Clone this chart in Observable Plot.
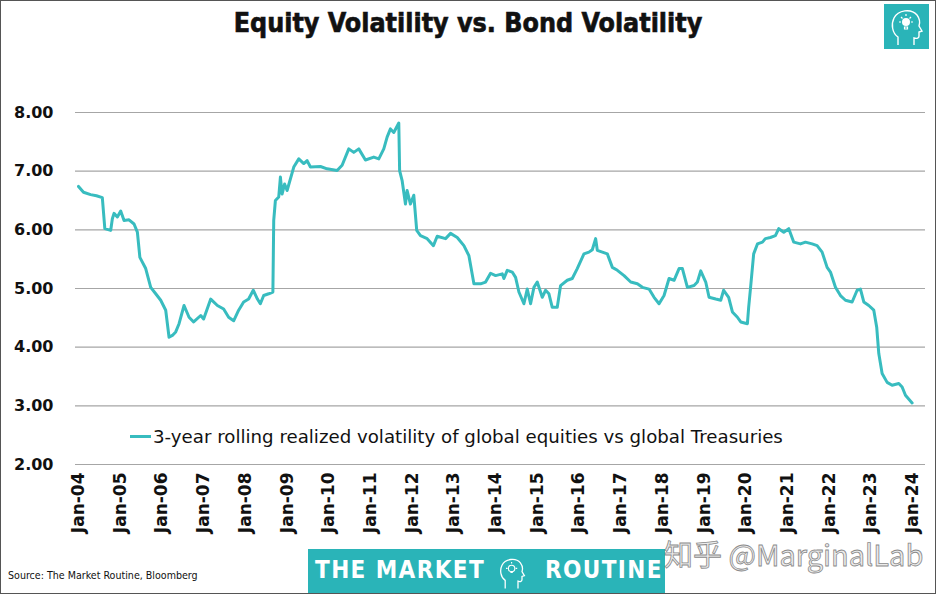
<!DOCTYPE html>
<html><head><meta charset="utf-8">
<script src="https://cdn.jsdelivr.net/npm/d3@7"></script>
<script src="https://cdn.jsdelivr.net/npm/@observablehq/plot@0.6"></script>
<style>
body{margin:0;background:#fff;}
#wrap{position:relative;width:936px;height:594px;overflow:hidden;background:#fff;font-family:"DejaVu Sans",sans-serif;}
#frame{position:absolute;left:0;top:0;width:936px;height:594px;box-sizing:border-box;border:1px solid #555;pointer-events:none;}
#title{position:absolute;left:0;top:7px;width:936px;text-align:center;font-family:"DejaVu Sans Condensed","DejaVu Sans",sans-serif;font-weight:bold;font-size:26.6px;color:#111;-webkit-text-stroke:0.6px #111;}
#chart{position:absolute;left:0;top:0;}
#legend{position:absolute;left:130px;top:426px;font-size:18.2px;color:#111;white-space:nowrap;display:flex;align-items:center;}
#legend .sw{display:inline-block;width:21px;height:3px;background:#38bcbf;margin-right:2px;}
#source{position:absolute;left:8px;top:569px;font-family:"DejaVu Sans Condensed",sans-serif;font-size:10.6px;color:#111;}
#banner{position:absolute;left:308px;top:549px;width:357px;height:44px;background:#2ab4b8;color:#fff;font-family:"DejaVu Sans Condensed",sans-serif;font-weight:bold;font-size:24px;letter-spacing:1.4px;}
#banner .t1{position:absolute;left:7px;top:7px;}
#banner .t2{position:absolute;left:237px;top:7px;}
#banner svg{position:absolute;left:186px;top:4px;}
#logo{position:absolute;left:884px;top:4px;width:45px;height:45px;background:#2ab4b8;}
#wm{position:absolute;left:664px;top:532px;font-family:"Noto Sans CJK SC",sans-serif;font-size:29px;color:#ececec;-webkit-text-stroke:0.8px #8a8a8a;white-space:nowrap;}
</style></head><body>
<div id="wrap">
  <div id="title">Equity Volatility vs. Bond Volatility</div>
  <div id="logo"><svg width="45" height="45" viewBox="0 0 45 45">
    <path d="M14 41 L14 33 C8 29 7 20 10 14 C14 6 27 4 33 11 C36 15 36 19 35 22 L38 27 L35 28 L35 32 C35 34 33 35 30 34 L30 41" fill="none" stroke="#fff" stroke-width="1.4"/>
    <circle cx="22" cy="18" r="4" fill="#fff"/>
    <path d="M22 10 L22 12 M15 18 L17 18 M27 18 L29 18 M17 13 L18.5 14.5 M27 13 L25.5 14.5 M20.5 23 L23.5 23 L23.5 25 L20.5 25 Z" stroke="#fff" stroke-width="1.2" fill="none"/>
  </svg></div>
  <div id="chart"></div>
  <div id="legend"><span class="sw"></span><span>3-year rolling realized volatility of global equities vs global Treasuries</span></div>
  <div id="source">Source: The Market Routine, Bloomberg</div>
  <div id="banner"><span class="t1">THE MARKET</span>
    <svg width="36" height="38" viewBox="0 0 45 45">
      <path d="M14 43 L14 33 C8 29 7 20 10 14 C14 6 27 4 33 11 C36 15 36 19 35 22 L38 27 L35 28 L35 32 C35 34 33 35 30 34 L30 43" fill="none" stroke="#fff" stroke-width="1.6"/>
      <circle cx="22" cy="18" r="4" fill="none" stroke="#fff" stroke-width="1.4"/>
      <path d="M22 10 L22 12 M15 18 L17 18 M27 18 L29 18 M20.5 23 L23.5 23" stroke="#fff" stroke-width="1.4"/>
    </svg>
    <span class="t2">ROUTINE</span></div>
  <div id="wm">知乎 @MarginalLab</div>
  <div id="frame"></div>
</div>
<script>
// Decimal-year positions and 3y rolling volatility ratio
const years = [
  2004.00,2004.12,2004.29,2004.43,2004.57,2004.63,2004.77,2004.81,2004.85,2004.93,
  2005.01,2005.09,2005.21,2005.33,2005.41,2005.47,2005.61,2005.73,2005.85,2005.97,
  2006.09,2006.17,2006.25,2006.33,2006.41,2006.53,2006.65,2006.76,2006.93,2007.00,
  2007.17,2007.33,2007.48,2007.60,2007.72,2007.84,2007.96,2008.08,2008.19,2008.29,
  2008.36,2008.44,2008.56,2008.66,2008.68,2008.72,2008.80,2008.84,2008.88,2008.94,
  2009.00,2009.16,2009.28,2009.40,2009.48,2009.56,2009.80,2009.96,2010.20,2010.32,
  2010.48,2010.60,2010.72,2010.88,2011.08,2011.20,2011.32,2011.40,2011.48,2011.56,
  2011.68,2011.70,2011.76,2011.84,2011.88,2011.96,2012.04,2012.11,2012.20,2012.36,
  2012.51,2012.60,2012.80,2012.92,2013.08,2013.24,2013.36,2013.48,2013.64,2013.76,
  2013.88,2014.00,2014.16,2014.20,2014.28,2014.40,2014.48,2014.56,2014.68,2014.76,
  2014.84,2014.92,2015.00,2015.12,2015.20,2015.28,2015.36,2015.48,2015.56,2015.72,
  2015.84,2015.96,2016.12,2016.24,2016.32,2016.40,2016.44,2016.56,2016.68,2016.80,
  2016.92,2017.08,2017.24,2017.40,2017.52,2017.68,2017.80,2017.92,2018.04,2018.16,
  2018.28,2018.40,2018.48,2018.60,2018.76,2018.84,2018.92,2019.04,2019.12,2019.28,
  2019.40,2019.47,2019.59,2019.68,2019.80,2019.88,2020.04,2020.07,2020.12,2020.19,
  2020.28,2020.40,2020.47,2020.59,2020.71,2020.79,2020.91,2021.03,2021.15,2021.31,
  2021.43,2021.59,2021.71,2021.83,2021.95,2022.03,2022.15,2022.27,2022.39,2022.55,
  2022.67,2022.75,2022.83,2022.95,2023.07,2023.14,2023.19,2023.27,2023.39,2023.51,
  2023.67,2023.75,2023.83,2023.99
];
const ratio = [
  6.74,6.64,6.60,6.58,6.55,6.02,5.99,6.19,6.28,6.22,
  6.32,6.16,6.17,6.10,5.96,5.53,5.34,5.02,4.91,4.80,
  4.63,4.17,4.20,4.26,4.40,4.71,4.51,4.43,4.54,4.48,
  4.82,4.71,4.65,4.51,4.45,4.63,4.77,4.82,4.97,4.82,
  4.74,4.88,4.91,4.94,6.16,6.50,6.56,6.90,6.61,6.78,
  6.67,7.07,7.21,7.13,7.18,7.07,7.08,7.04,7.01,7.10,
  7.38,7.32,7.38,7.19,7.24,7.21,7.38,7.58,7.72,7.66,
  7.82,7.01,6.84,6.44,6.67,6.44,6.59,5.99,5.90,5.85,
  5.73,5.89,5.85,5.94,5.87,5.73,5.56,5.08,5.08,5.11,
  5.26,5.22,5.25,5.17,5.31,5.28,5.19,4.94,4.74,4.99,
  4.74,5.02,5.11,4.85,4.97,4.91,4.68,4.68,5.05,5.14,
  5.17,5.34,5.59,5.62,5.66,5.85,5.65,5.62,5.59,5.36,
  5.31,5.22,5.11,5.08,5.02,4.99,4.85,4.74,4.88,5.17,
  5.14,5.34,5.34,5.02,5.05,5.11,5.30,5.11,4.85,4.82,
  4.80,4.97,4.85,4.60,4.51,4.43,4.40,4.68,5.05,5.59,
  5.76,5.79,5.85,5.87,5.90,6.02,5.96,6.02,5.79,5.76,
  5.79,5.76,5.73,5.62,5.36,5.28,5.02,4.88,4.80,4.77,
  4.97,4.99,4.77,4.71,4.63,4.34,3.89,3.55,3.40,3.35,
  3.38,3.32,3.18,3.05
];
const tickYears = [2004,2005,2006,2007,2008,2009,2010,2011,2012,2013,2014,2015,2016,2017,2018,2019,2020,2021,2022,2023,2024];
const yTicks = [2,3,4,5,6,7,8];

function toDate(y){
  const yr = Math.floor(y);
  const start = Date.UTC(yr,0,1), end = Date.UTC(yr+1,0,1);
  return new Date(start + (y - yr) * (end - start));
}
const data = years.map((y,i)=>({date: toDate(y), v: ratio[i]}));
const tickDates = tickYears.map(y => new Date(Date.UTC(y,0,1)));

const chart = Plot.plot({
  width: 936, height: 594,
  marginTop: 112, marginBottom: 130, marginLeft: 75, marginRight: 11,
  style: {fontFamily: "DejaVu Sans, sans-serif", color: "#111", background: "transparent"},
  x: {type: "utc", domain: [toDate(2003.928), toDate(2024.31)]},
  y: {domain: [2, 8]},
  marks: [
    Plot.ruleY(yTicks, {stroke: "#a6a6a6", strokeWidth: 1.2}),
    Plot.axisY({ticks: yTicks, tickFormat: d3.format(".2f"), tickSize: 0, tickPadding: 22, fontSize: 16, fontWeight: "bold", label: null}),
    Plot.axisX({ticks: tickDates, tickFormat: d3.utcFormat("%b-%y"), tickSize: 0, tickPadding: 8, tickRotate: -90, fontSize: 17, fontWeight: "bold", label: null}),
    Plot.line(data, {x: "date", y: "v", stroke: "#38bcbf", strokeWidth: 3, strokeLinejoin: "round"})
  ]
});
document.getElementById("chart").appendChild(chart);
</script>
</body></html>
